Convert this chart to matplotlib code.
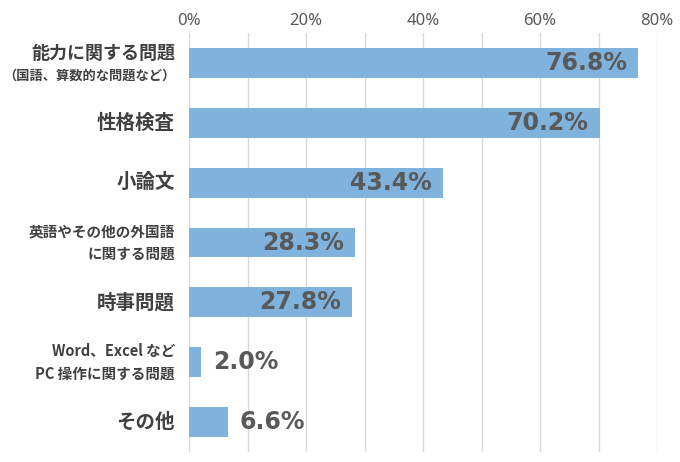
import matplotlib
matplotlib.use("Agg")
import matplotlib.pyplot as plt
from matplotlib.transforms import offset_copy, blended_transform_factory

# Data
categories_main = ["能力に関する問題", "性格検査", "小論文", "英語やその他の外国語\nに関する問題",
                   "時事問題", "Word、Excel など\nPC 操作に関する問題", "その他"]
categories_sub = ["（国語、算数的な問題など）", "", "", "", "", "", ""]
values = [76.8, 70.2, 43.4, 28.3, 27.8, 2.0, 6.6]
xticks = [0, 20, 40, 60, 80]
xtick_labels = ["0%", "20%", "40%", "60%", "80%"]

label_sizes = [13, 14, 14, 10.5, 14, 10.5, 14]

jp = ["Noto Sans CJK JP", "DejaVu Sans"]
bar_color = "#7FB2DC"
text_color = "#595959"
label_color = "#404040"

fig = plt.figure(figsize=(6.8, 4.62), dpi=100)
ax = fig.add_axes([189/680, 1-452/462, (657-189)/680, (452-33)/462])

y = list(range(len(values)))
ax.barh(y, values, height=0.5, color=bar_color, zorder=3)
ax.set_ylim(len(values)-0.5, -0.5)
ax.set_xlim(0, 80)

ax.set_xticks(xticks)
ax.set_xticklabels(xtick_labels)
ax.set_xticks([10, 30, 50, 70], minor=True)
ax.grid(axis="x", which="both", color="#D9D9D9", linewidth=1.0, zorder=0)
ax.xaxis.tick_top()
ax.tick_params(axis="x", which="both", length=0, pad=3, labelsize=12, labelcolor=text_color)
for lbl in ax.get_xticklabels():
    lbl.set_family(["Noto Sans", "DejaVu Sans"])
ax.set_yticks([])
for s in ax.spines.values():
    s.set_visible(False)

trans_lbl = offset_copy(blended_transform_factory(ax.transAxes, ax.transData), fig=fig, x=-14, y=0, units="dots")
for i, (m, sub, sz) in enumerate(zip(categories_main, categories_sub, label_sizes)):
    if sub:
        t1 = offset_copy(trans_lbl, fig=fig, x=0, y=9, units="dots")
        ax.text(0, i, m, transform=t1, ha="right", va="center", fontsize=sz,
                fontweight="bold", color=label_color, family=jp)
        t2 = offset_copy(trans_lbl, fig=fig, x=0, y=-13, units="dots")
        ax.text(0, i, sub, transform=t2, ha="right", va="center", fontsize=9.5,
                fontweight="bold", color=label_color, family=jp)
    else:
        ax.text(0, i, m, transform=trans_lbl, ha="right", va="center", fontsize=sz,
                fontweight="bold", color=label_color, family=jp, linespacing=1.5)

for i, v in enumerate(values):
    txt = f"{v:.1f}%"
    if v > 10:
        tr = offset_copy(ax.transData, fig=fig, x=-11, y=0, units="dots")
        ax.text(v, i, txt, transform=tr, ha="right", va="center", fontsize=17,
                fontweight="bold", color=text_color, zorder=4)
    else:
        tr = offset_copy(ax.transData, fig=fig, x=12, y=0, units="dots")
        ax.text(v, i, txt, transform=tr, ha="left", va="center", fontsize=17,
                fontweight="bold", color=text_color, zorder=4)

fig.savefig("out.png", dpi=100)
